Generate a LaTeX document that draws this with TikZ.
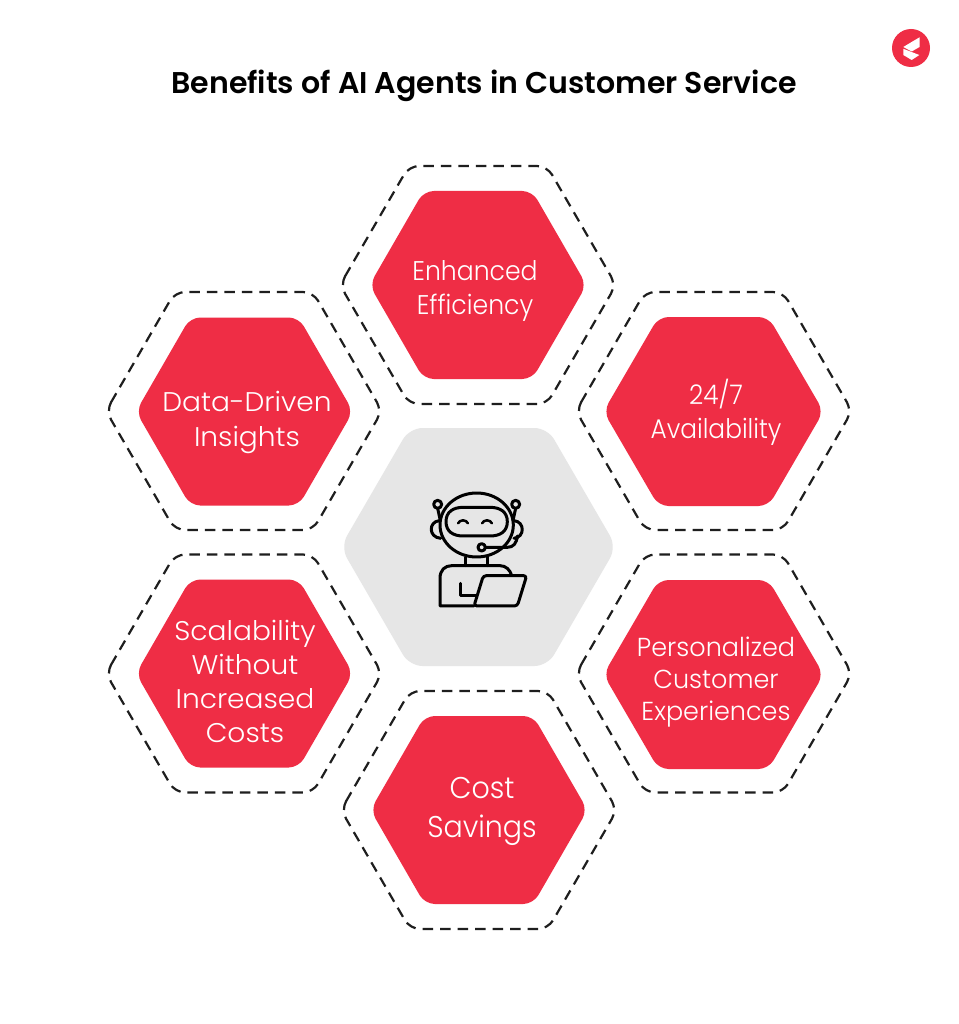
\documentclass[tikz,border=0pt]{standalone}
\usepackage{fontspec}
\setmainfont{Poppins}[UprightFont=* Light,BoldFont=* SemiBold]
\definecolor{brandred}{HTML}{EF2D45}
\definecolor{hexgray}{HTML}{E6E6E6}
\definecolor{ink}{HTML}{1E1E1E}
\tikzset{
  redhex/.style={fill=brandred,rounded corners=10pt},
  grayhex/.style={fill=hexgray,rounded corners=13pt},
  dashhex/.style={draw=ink,line width=2.2pt,dash pattern=on 10.5pt off 7pt,rounded corners=10pt},
  hexlabel/.style={text=white,align=center,inner sep=0pt},
  iconline/.style={draw=black,line width=3pt,line cap=round,line join=round},
}
\newcommand{\hexpath}[5]{% style, cx, cy, halfheight, halfwidth
  \path[#1] ({#2-#5},#3) -- ({#2-#5/2},{#3-#4}) -- ({#2+#5/2},{#3-#4}) -- ({#2+#5},#3) -- ({#2+#5/2},{#3+#4}) -- ({#2-#5/2},{#3+#4}) -- cycle;}
\begin{document}
\begin{tikzpicture}[x=1pt,y=-1pt]
\useasboundingbox (0,0) rectangle (958,1024);
\fill[white] (0,0) rectangle (958,1024);
\node[font=\bfseries\fontsize{30}{34}\selectfont,text=black,inner sep=0pt] (title) at (484,86) {Benefits of AI Agents in Customer Service};
% logo
\fill[brandred] (911,48) circle (19);
\fill[white] (903.3,47) -- (919.5,37.3) -- (919.5,47) -- (911.7,51.5) -- cycle;
\fill[white] (903.3,48.8) -- (919.3,55) -- (911.7,60) -- (903.3,55) -- cycle;
% dashed outlines
\hexpath{dashhex}{478}{285}{119}{138}
\hexpath{dashhex}{244}{411}{119}{138}
\hexpath{dashhex}{714}{411}{119}{138}
\hexpath{dashhex}{244}{673.5}{119}{138}
\hexpath{dashhex}{714}{673.5}{119}{138}
\hexpath{dashhex}{479}{810}{119}{138}
% red hexagons
\hexpath{redhex}{478}{285}{94}{108.5}
\hexpath{redhex}{244.5}{411.5}{94}{108.5}
\hexpath{redhex}{713.5}{411.5}{94.5}{110}
\hexpath{redhex}{244.5}{673.5}{94}{108.5}
\hexpath{redhex}{713.5}{674.5}{94.5}{110}
\hexpath{redhex}{479}{810}{94}{108.5}
% centre
\hexpath{grayhex}{478.5}{547}{119}{138}
% labels
\node[hexlabel,font=\fontsize{27}{34}\selectfont\addfontfeature{FakeStretch=0.93}] (efficiency) at (475,291) {Enhanced\\Efficiency};
\node[hexlabel,font=\fontsize{27}{35}\selectfont\addfontfeature{FakeStretch=1.04}] (insights) at (247,422) {Data-Driven\\Insights};
\node[hexlabel,font=\fontsize{27}{34}\selectfont\addfontfeature{FakeStretch=0.92}] (availability) at (716,412.5) {24/7\\Availability};
\node[hexlabel,font=\fontsize{27}{34}\selectfont\addfontfeature{FakeStretch=1.04}] (scalability) at (245,681) {Scalability\\Without\\Increased\\Costs};
\node[hexlabel,font=\fontsize{26}{32}\selectfont\addfontfeature{FakeStretch=0.98}] (personalized) at (716,682) {Personalized\\Customer\\Experiences};
\node[hexlabel,font=\fontsize{30}{39}\selectfont\addfontfeature{FakeStretch=0.95}] (savings) at (482,811) {Cost\\Savings};
% robot icon
\begin{scope}[shift={(400,470)},x=0.3333pt,y=-0.3333pt]
  \path[iconline] (230,165) ellipse [x radius=110,y radius=96];
  \path[iconline] (138,155) .. controls (138,125) and (160,112) .. (190,112) -- (270,112) .. controls (300,112) and (322,125) .. (322,155) .. controls (322,185) and (300,198) .. (270,198) -- (190,198) .. controls (160,198) and (138,185) .. (138,155) -- cycle;
  \path[iconline,line width=2.5pt] (174,160) .. controls (180,148) and (198,148) .. (204,160);
  \path[iconline,line width=2.5pt] (246,160) .. controls (252,148) and (270,148) .. (276,160);
  % antennas
  \path[iconline] (113,103) circle [radius=12];
  \path[iconline] (347,103) circle [radius=12];
  \path[iconline] (113,115) -- (121,152);
  \path[iconline] (347,115) -- (339,152);
  % ears
  \path[iconline] (118,152) .. controls (85,155) and (85,202) .. (122,205);
  \path[iconline] (342,152) .. controls (375,155) and (375,202) .. (342,205);
  % microphone
  \path[iconline] (245,232) circle [radius=11];
  \path[iconline] (256,232) -- (322,232) .. controls (340,232) and (350,220) .. (352,198);
  % neck
  \path[iconline] (197,262) -- (197,287);
  \path[iconline] (263,262) -- (263,287);
  % body
  \path[iconline] (222,408) -- (120,408) -- (120,325) .. controls (120,300) and (135,287) .. (155,287) -- (300,287) .. controls (318,287) and (330,300) .. (335,316);
  \path[iconline] (180,340) -- (180,378) -- (228,378);
  % laptop
  \path[iconline,rounded corners=3pt] (250,317) -- (380,317) -- (352,408) -- (222,408) -- cycle;
\end{scope}
\end{tikzpicture}
\end{document}
